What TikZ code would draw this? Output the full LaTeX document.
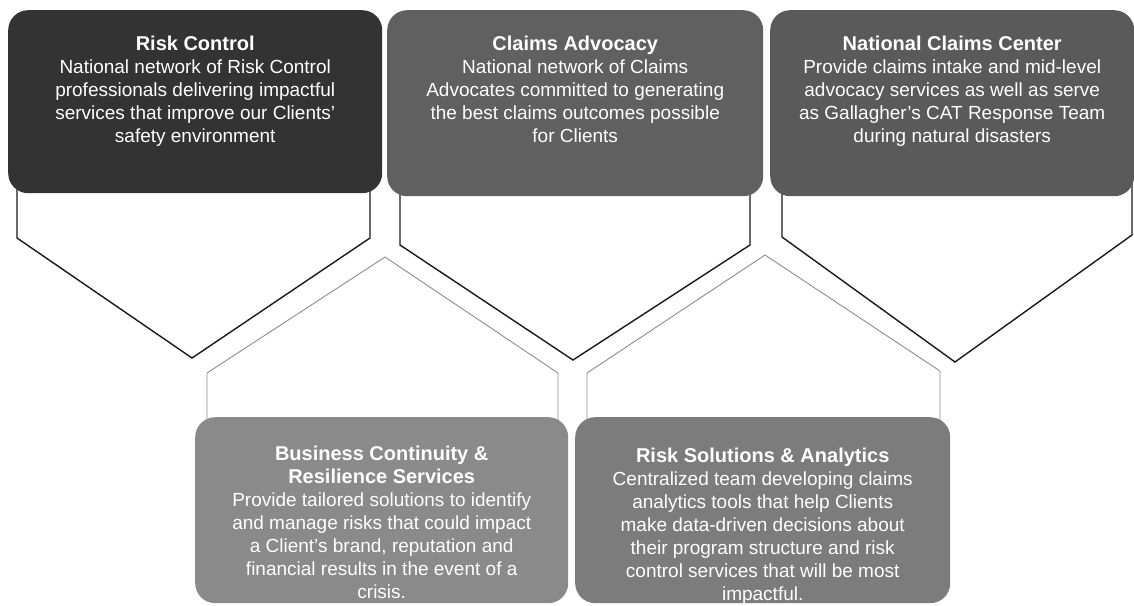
\documentclass[tikz,border=0pt]{standalone}
\usepackage{fontspec}
\setmainfont{Liberation Sans}
\usetikzlibrary{positioning}
\definecolor{rcgray}{HTML}{333333}
\definecolor{cagray}{HTML}{606060}
\definecolor{ncgray}{HTML}{5A5A5A}
\definecolor{bcgray}{HTML}{8A8A8A}
\definecolor{rsgray}{HTML}{7C7C7C}
\def\paneltitle#1{{\fontsize{20}{23}\selectfont\bfseries #1}}
\tikzset{
	panel/.style={rectangle, rounded corners=20pt, inner sep=0pt, anchor=north west},
	paneltext/.style={text=white, align=center, inner sep=0pt, font=\fontsize{19}{23}\selectfont},
	downhex/.style={line width=1.4pt, draw=black!90, fill=white, line join=miter},
	uphex/.style={line width=0.9pt, draw=black!45, fill=white, line join=miter},
}

\begin{document}
\begin{tikzpicture}[x=1pt, y=-1pt]
			%%%%% START %%%%%
			\useasboundingbox (0, 0) rectangle (1134, 605);
			
			\draw[downhex] (17, 150) -- (17, 238) -- (192, 358) -- (370, 238) -- (370, 150) -- cycle;
			\draw[downhex] (400, 150) -- (400, 245) -- (573, 360) -- (750, 245) -- (750, 150) -- cycle;
			\draw[downhex] (782, 150) -- (782, 237) -- (955, 362) -- (1132, 235) -- (1132, 150) -- cycle;
			
			\draw[uphex] (207, 440) -- (207, 373) -- (385, 257) -- (558, 373) -- (558, 440) -- cycle;
			\draw[uphex] (587, 440) -- (587, 373) -- (765, 255) -- (940, 371) -- (940, 440) -- cycle;
			
			%%%%% TOP ROW %%%%%
			\node[panel, fill=rcgray, minimum width=374pt, minimum height=183pt] (rc) at (8, 10) {};
			\node[paneltext, below=26pt of rc.north] (rctext) {\paneltitle{Risk Control}\\National network of Risk Control\\professionals delivering impactful\\services that improve our Clients'\\safety environment};
			
			\node[panel, fill=cagray, minimum width=376pt, minimum height=186pt] (ca) at (387, 10) {};
			\node[paneltext, below=26pt of ca.north] (catext) {\paneltitle{Claims Advocacy}\\National network of Claims\\Advocates committed to generating\\the best claims outcomes possible\\for Clients};
			
			\node[panel, fill=ncgray, minimum width=364pt, minimum height=186pt] (nc) at (770, 10) {};
			\node[paneltext, below=26pt of nc.north] (nctext) {\paneltitle{National Claims Center}\\Provide claims intake and mid-level\\advocacy services as well as serve\\as Gallagher's CAT Response Team\\during natural disasters};
			
			%%%%% BOTTOM ROW %%%%%
			\node[panel, fill=bcgray, minimum width=373pt, minimum height=186pt] (bc) at (195, 417) {};
			\node[paneltext, below=29pt of bc.north] (bctext) {\paneltitle{Business Continuity \&}\\\paneltitle{Resilience Services}\\Provide tailored solutions to identify\\and manage risks that could impact\\a Client's brand, reputation and\\financial results in the event of a\\crisis.};
			
			\node[panel, fill=rsgray, minimum width=375pt, minimum height=186pt] (rs) at (575, 417) {};
			\node[paneltext, below=31pt of rs.north] (rstext) {\paneltitle{Risk Solutions \& Analytics}\\Centralized team developing claims\\analytics tools that help Clients\\make data-driven decisions about\\their program structure and risk\\control services that will be most\\impactful.};
			
			%%%%% END %%%%%
		\end{tikzpicture}
\end{document}
